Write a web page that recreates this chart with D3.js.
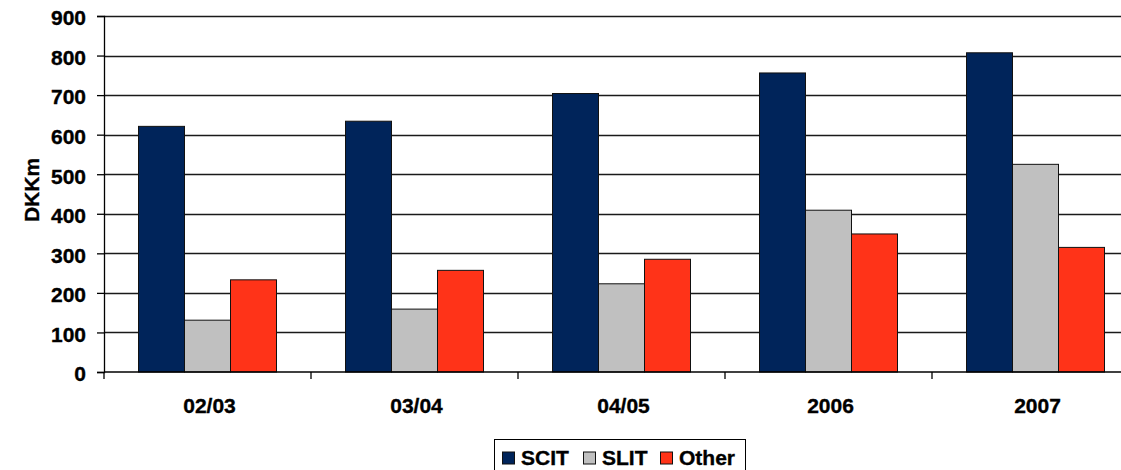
<!DOCTYPE html>
<html>
<head>
<meta charset="utf-8">
<script src="https://cdn.jsdelivr.net/npm/d3@7"></script>
<style>
  html, body { margin: 0; padding: 0; background: #fff; }
  svg { display: block; }
  text { font-family: "Liberation Sans", Arial, sans-serif; font-weight: bold; fill: #000; stroke: #000; stroke-width: 0.35px; }
</style>
</head>
<body>
<svg id="chart" width="1121" height="470"></svg>
<script>
// Revenue by product line, DKK millions
const categories = ["02/03", "03/04", "04/05", "2006", "2007"];
const seriesNames = ["SCIT", "SLIT", "Other"];
const scitValues  = [621, 634, 704, 756, 807];
const slitValues  = [131, 159, 223, 409, 525];
const otherValues = [233, 257, 285, 349, 315];
const yTicks = [0, 100, 200, 300, 400, 500, 600, 700, 800, 900];
const seriesColors = ["#00245A", "#C0C0C0", "#FF3318"];

const seriesValues = [scitValues, slitValues, otherValues];

const svg = d3.select("#chart");
const plot = { left: 104, top: 16, width: 1035, height: 356 };

const x0 = d3.scaleBand()
  .domain(categories)
  .range([plot.left, plot.left + plot.width])
  .paddingInner(1 / 3)
  .paddingOuter(1 / 6);

const x1 = d3.scaleBand()
  .domain(seriesNames)
  .range([0, x0.bandwidth()]);

const y = d3.scaleLinear()
  .domain([0, 900])
  .range([plot.top + plot.height, plot.top]);

// horizontal gridlines
svg.append("g")
  .selectAll("line")
  .data(yTicks.filter(t => t > 0))
  .join("line")
  .attr("x1", plot.left)
  .attr("x2", plot.left + plot.width)
  .attr("y1", d => Math.round(y(d)) + 0.5)
  .attr("y2", d => Math.round(y(d)) + 0.5)
  .attr("stroke", "#1a1a1a")
  .attr("stroke-width", 1.3);

// bars
const groups = svg.append("g")
  .selectAll("g")
  .data(categories)
  .join("g")
  .attr("transform", d => `translate(${x0(d)},0)`);

groups.selectAll("rect")
  .data((c, i) => seriesNames.map((s, k) => ({ s, k, v: seriesValues[k][i] })))
  .join("rect")
  .attr("x", d => x1(d.s))
  .attr("width", x1.bandwidth())
  .attr("y", d => y(d.v))
  .attr("height", d => y(0) - y(d.v))
  .attr("fill", d => seriesColors[d.k])
  .attr("stroke", "#111")
  .attr("stroke-width", 1);

// y axis
const yAxis = d3.axisLeft(y)
  .tickValues(yTicks)
  .tickSize(7)
  .tickPadding(11);
const gy = svg.append("g")
  .attr("transform", `translate(${plot.left},0)`)
  .call(yAxis);
gy.select(".domain").attr("stroke", "#000").attr("stroke-width", 1.3);
gy.selectAll(".tick line").attr("stroke", "#000").attr("stroke-width", 1.3);
gy.selectAll(".tick text")
  .attr("font-size", 21)
  .attr("font-family", "Liberation Sans, Arial, sans-serif")
  .attr("font-weight", "bold")
  .attr("fill", "#000")
  .attr("dy", "0.42em");

// x axis with ticks at category boundaries
const gx = svg.append("g")
  .attr("transform", `translate(0,${y(0)})`);
gx.append("line")
  .attr("x1", plot.left)
  .attr("x2", plot.left + plot.width)
  .attr("stroke", "#000")
  .attr("stroke-width", 1.3);
const step = x0.step();
gx.selectAll("line.tick")
  .data(d3.range(categories.length + 1))
  .join("line")
  .attr("class", "tick")
  .attr("x1", i => plot.left + i * step)
  .attr("x2", i => plot.left + i * step)
  .attr("y1", 0)
  .attr("y2", 7)
  .attr("stroke", "#000")
  .attr("stroke-width", 1.3);
gx.selectAll("text")
  .data(categories)
  .join("text")
  .attr("x", d => x0(d) + x0.bandwidth() / 2 + 2)
  .attr("y", 41)
  .attr("text-anchor", "middle")
  .attr("font-size", 21)
  .text(d => d);

// y axis title
svg.append("text")
  .attr("transform", `translate(39,${(plot.top + plot.top + plot.height) / 2 - 4}) rotate(-90)`)
  .attr("text-anchor", "middle")
  .attr("font-size", 21)
  .text("DKKm");

// legend
const legend = svg.append("g").attr("transform", "translate(494,439)");
legend.append("rect")
  .attr("x", 0.5).attr("y", 0.5)
  .attr("width", 251).attr("height", 40)
  .attr("fill", "#fff")
  .attr("stroke", "#000")
  .attr("stroke-width", 1);
const legendX = [8, 89, 166];
const items = legend.selectAll("g.item")
  .data(seriesNames)
  .join("g")
  .attr("class", "item")
  .attr("transform", (d, i) => `translate(${legendX[i]},0)`);
items.append("rect")
  .attr("x", 0.5).attr("y", 13)
  .attr("width", 12).attr("height", 12)
  .attr("fill", (d, i) => seriesColors[i])
  .attr("stroke", "#111")
  .attr("stroke-width", 1);
items.append("text")
  .attr("x", 19)
  .attr("y", 26)
  .attr("font-size", 21)
  .text(d => d);
</script>
</body>
</html>
